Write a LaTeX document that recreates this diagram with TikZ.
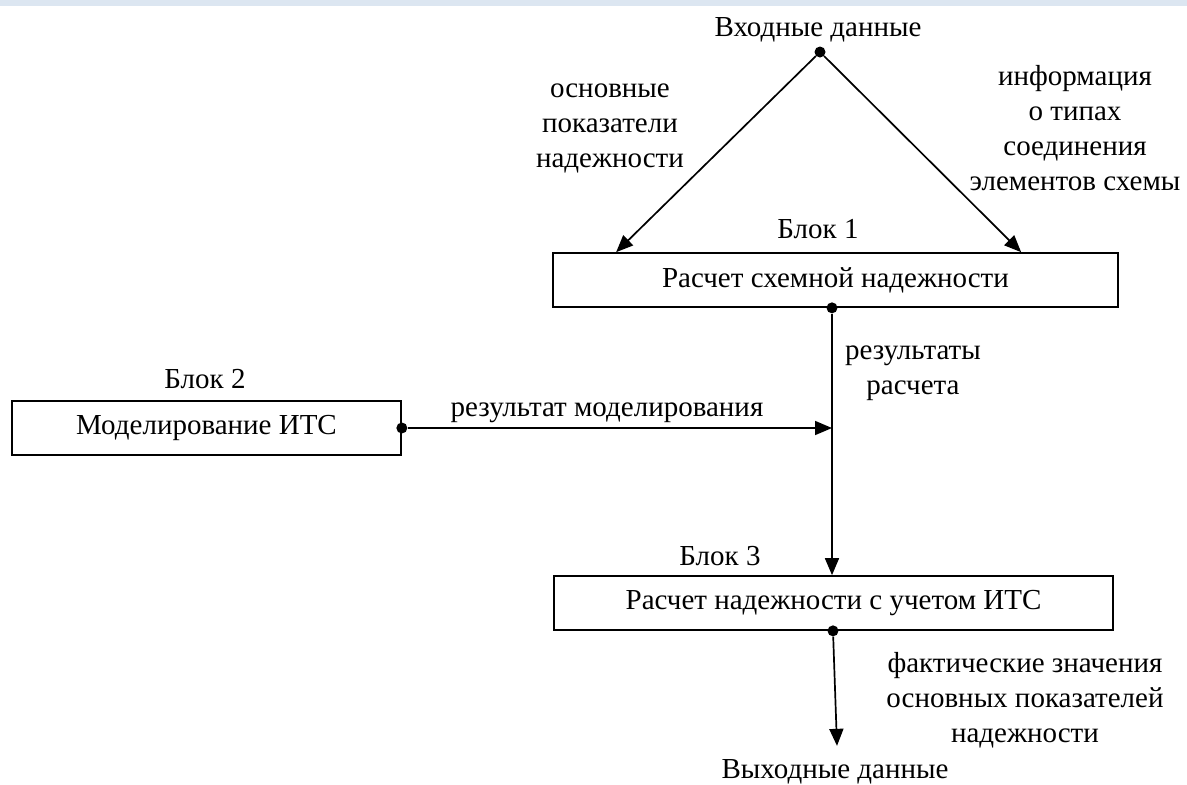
\documentclass[tikz,border=0pt]{standalone}
\usepackage{fontspec}
\setmainfont{Liberation Serif}
\usetikzlibrary{arrows.meta,calc}

\definecolor{bandblue}{HTML}{DCE6F1}

\tikzset{
  txt/.style={font=\fontsize{29}{35}\selectfont, inner sep=0pt, align=center},
  blockbox/.style={draw, line width=1.7pt, inner sep=0pt,
                   font=\fontsize{29}{35}\selectfont},
  link/.style={line width=1.7pt},
  arr/.style={link, -{Triangle[length=17pt,width=14pt]}},
  pin/.style={circle, fill=black, inner sep=0pt, minimum size=11pt}
}

\begin{document}
\begin{tikzpicture}[x=1pt,y=-1pt]
  \useasboundingbox (0,0) rectangle (1187,785);
  \fill[bandblue] (0,0) rectangle (1187,6);

  % blocks
  \node[blockbox, minimum width=565pt, minimum height=54pt] (b1) at (835.5,280) {Расчет схемной надежности};
  \node[blockbox, minimum width=389pt, minimum height=54pt] (b2) at (206.5,428) {Моделирование ИТС};
  \node[blockbox, minimum width=559pt, minimum height=54pt] (b3) at (833.5,603) {Расчет надежности с учетом ИТС};

  % block captions
  \node[txt, anchor=base] (c1) at (818,238) {Блок 1};
  \node[txt, anchor=base] (c2) at (205,388) {Блок 2};
  \node[txt, anchor=base] (c3) at (720,565) {Блок 3};

  % input and output
  \node[txt, anchor=base] (inlbl) at (818,36) {Входные данные};
  \node[pin] (in) at (820,52) {};
  \node[txt, anchor=base] (outlbl) at (835,778) {Выходные данные};

  % connection points
  \coordinate (t1l) at ($(b1.north west)+(64,0)$);
  \coordinate (t1r) at ($(b1.north west)+(469,0)$);
  \node[pin] (p1) at ($(b1.south)+(-3.5,0)$) {};
  \node[pin] (p2) at (b2.east) {};
  \node[pin] (p3) at ($(b3.south)+(-0.5,0)$) {};
  \coordinate (t3) at (p1 |- b3.north);
  \coordinate (j) at (p1 |- p2);
  \coordinate (outtip) at ($(p3)+(4,115)$);

  % connectors
  \draw[arr] (in) -- (t1l);
  \draw[arr] (in) -- (t1r);
  \draw[arr] (p1) -- (t3);
  \draw[arr] (p2) -- (j);
  \draw[arr] (p3) -- (outtip);

  % connector labels
  \node[txt] (l1) at (610,128) {основные\\показатели\\надежности};
  \node[txt] (l2) at (1075,128) {информация\\о типах\\соединения\\элементов схемы};
  \node[txt] (l3) at (913,373) {результаты\\расчета};
  \node[txt, anchor=base] (l4) at (607,416) {результат моделирования};
  \node[txt] (l5) at (1025,700) {фактические значения\\основных показателей\\надежности};
\end{tikzpicture}
\end{document}
